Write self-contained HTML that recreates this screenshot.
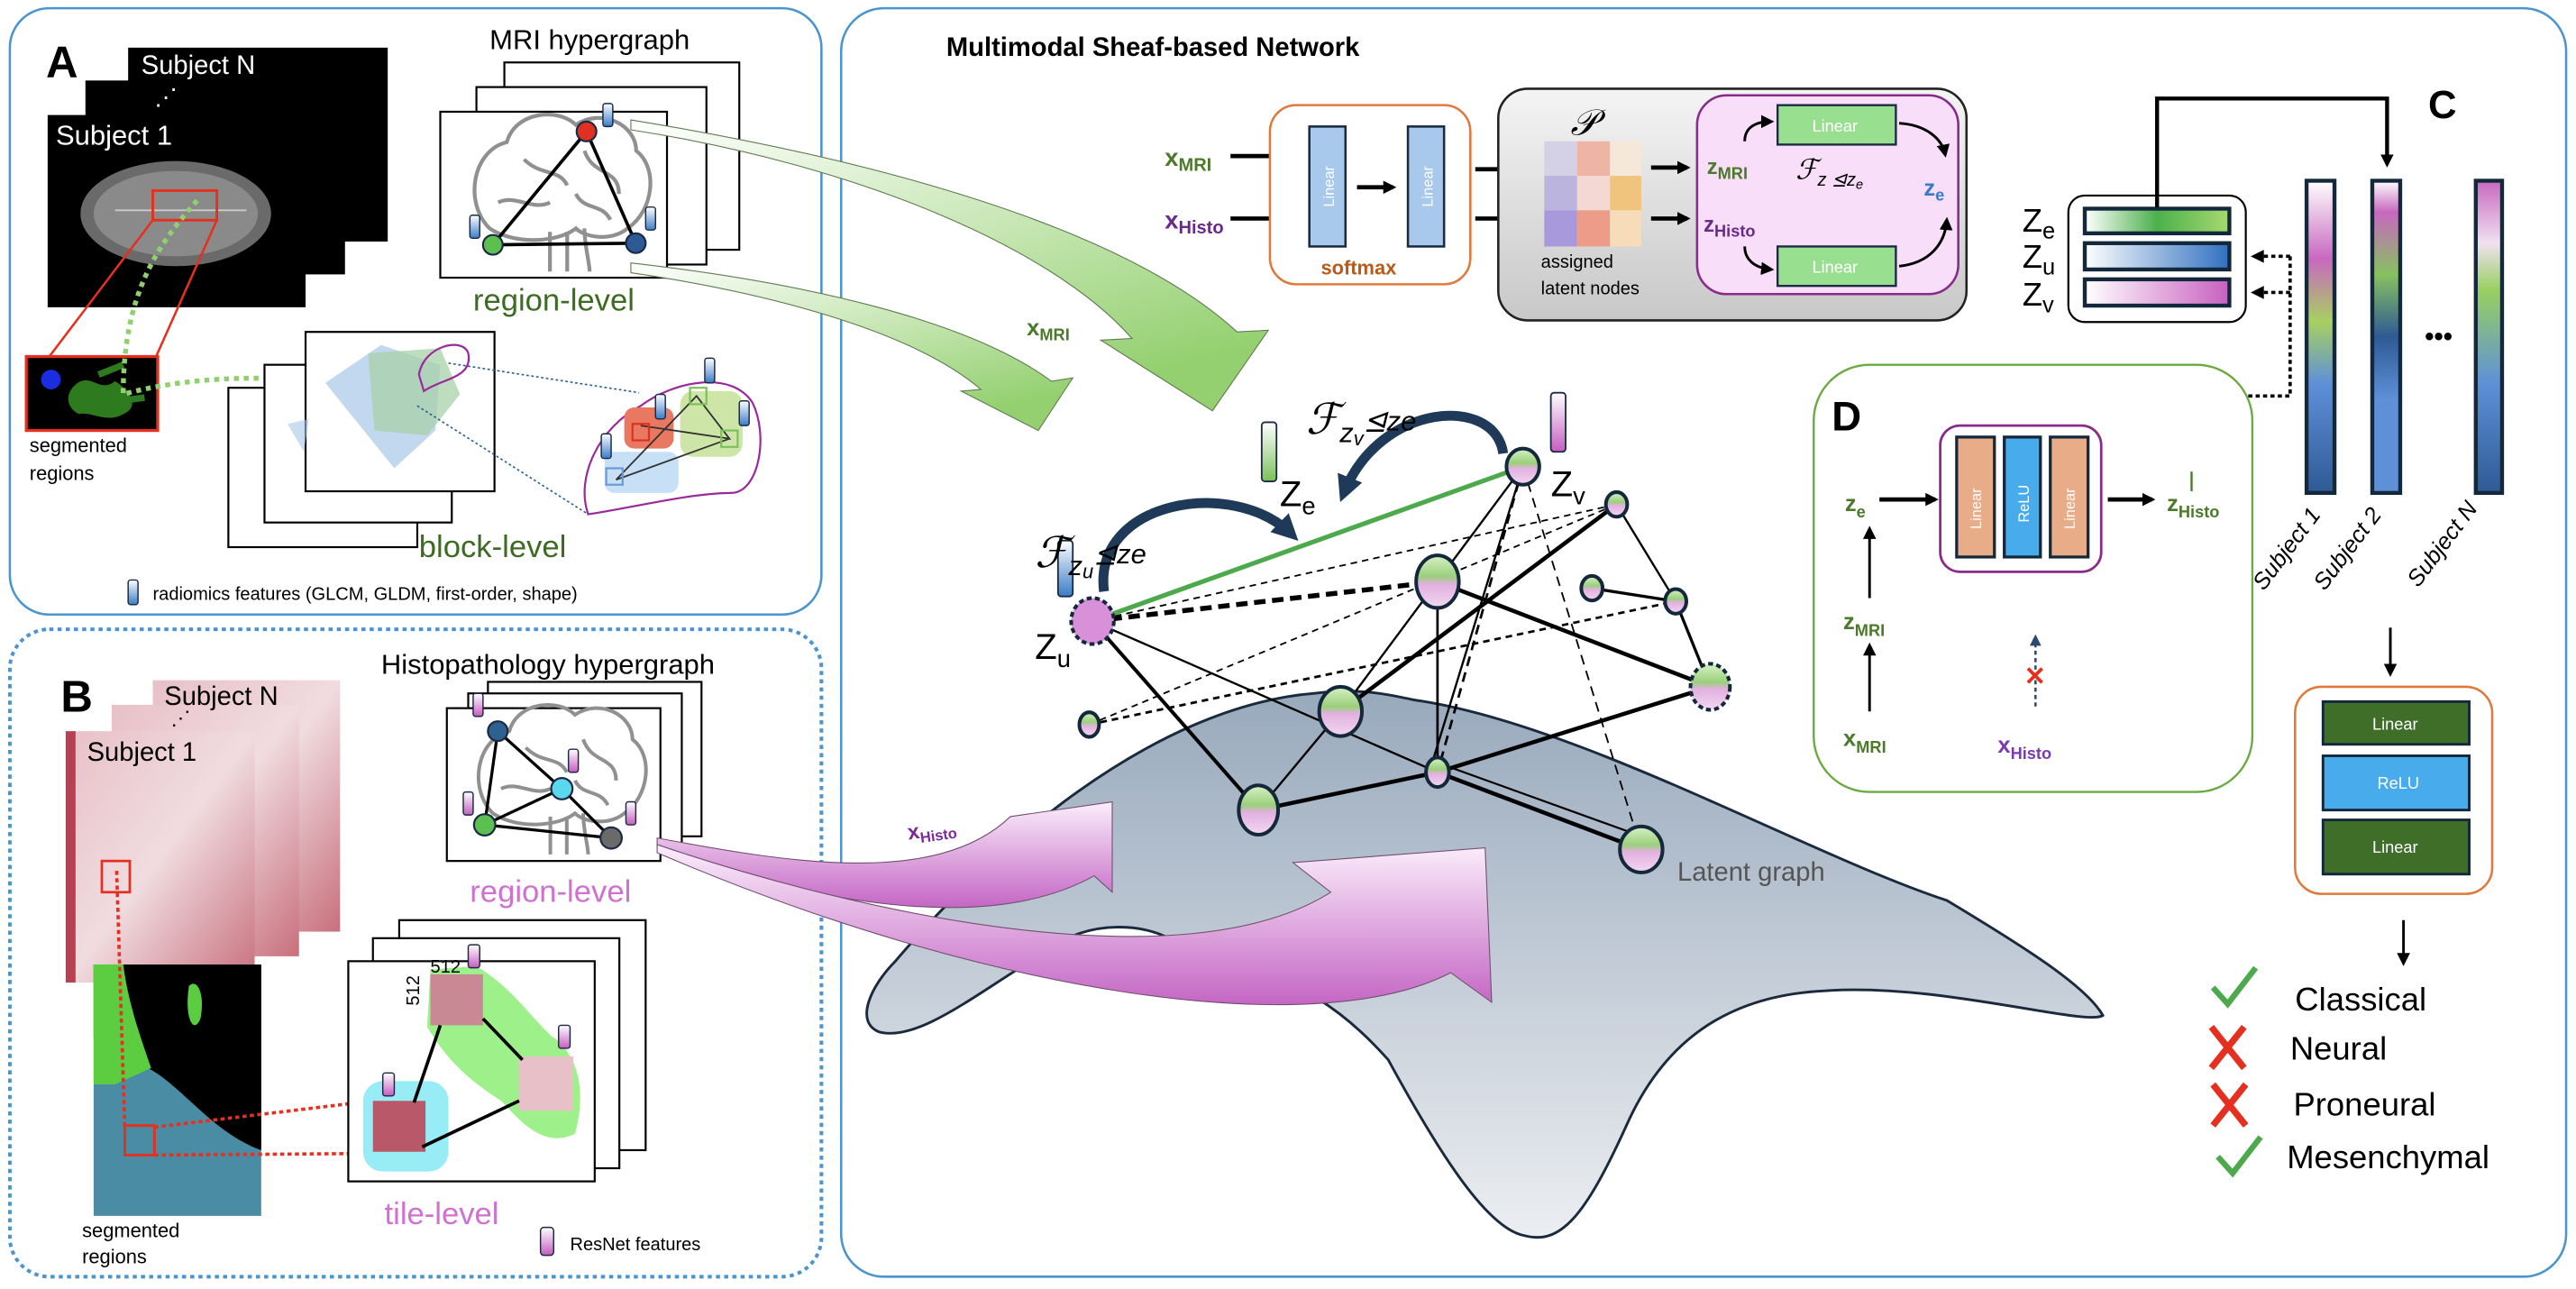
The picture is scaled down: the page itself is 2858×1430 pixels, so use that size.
<!DOCTYPE html>
<html><head><meta charset="utf-8"><style>
html,body{margin:0;padding:0;background:#fff;}
svg{display:block;}
text{font-family:"Liberation Sans",sans-serif;}
</style></head><body>
<svg width="2858" height="1430" viewBox="0 0 1568 784.5" preserveAspectRatio="none" xmlns="http://www.w3.org/2000/svg">
<defs>
<linearGradient id="ng" x1="0" y1="0" x2="0" y2="1"><stop offset="0" stop-color="#d8f0c8"/><stop offset="0.4" stop-color="#9ad07a"/><stop offset="0.55" stop-color="#e2b0e0"/><stop offset="1" stop-color="#f2d8f0"/></linearGradient>
<linearGradient id="bb" x1="0" y1="0" x2="0" y2="1"><stop offset="0" stop-color="#fff"/><stop offset="1" stop-color="#3a7cc6"/></linearGradient>
<linearGradient id="pb" x1="0" y1="0" x2="0" y2="1"><stop offset="0" stop-color="#fff"/><stop offset="1" stop-color="#c65cbf"/></linearGradient>
<linearGradient id="gb" x1="0" y1="0" x2="0" y2="1"><stop offset="0" stop-color="#fff"/><stop offset="1" stop-color="#7cc05a"/></linearGradient>
<linearGradient id="man" x1="0" y1="0" x2="0" y2="1"><stop offset="0" stop-color="#98a9bc"/><stop offset="1" stop-color="#eceef1"/></linearGradient>
<linearGradient id="garr" x1="0" y1="0" x2="0.6" y2="1"><stop offset="0" stop-color="#ffffff"/><stop offset="1" stop-color="#94d070"/></linearGradient>
<linearGradient id="parr" x1="0" y1="0" x2="0" y2="1"><stop offset="0" stop-color="#fbeefb"/><stop offset="1" stop-color="#c466c4"/></linearGradient>
<linearGradient id="zeb" x1="0" y1="0" x2="1" y2="0"><stop offset="0" stop-color="#fff"/><stop offset="0.5" stop-color="#4cb04c"/><stop offset="1" stop-color="#a8d870"/></linearGradient>
<linearGradient id="zub" x1="0" y1="0" x2="1" y2="0"><stop offset="0" stop-color="#fff"/><stop offset="1" stop-color="#3070c0"/></linearGradient>
<linearGradient id="zvb" x1="0" y1="0" x2="1" y2="0"><stop offset="0" stop-color="#fff"/><stop offset="1" stop-color="#c860c0"/></linearGradient>
<linearGradient id="s1" x1="0" y1="0" x2="0" y2="1"><stop offset="0" stop-color="#fff"/><stop offset="0.25" stop-color="#c868c0"/><stop offset="0.45" stop-color="#a8d060"/><stop offset="0.65" stop-color="#5e90d8"/><stop offset="1" stop-color="#2e5a94"/></linearGradient>
<linearGradient id="s2" x1="0" y1="0" x2="0" y2="1"><stop offset="0" stop-color="#fff"/><stop offset="0.1" stop-color="#c868c0"/><stop offset="0.3" stop-color="#88c060"/><stop offset="0.5" stop-color="#2e5a94"/><stop offset="0.7" stop-color="#5e90d8"/><stop offset="1" stop-color="#5e90d8"/></linearGradient>
<linearGradient id="s3" x1="0" y1="0" x2="0" y2="1"><stop offset="0" stop-color="#c868c0"/><stop offset="0.2" stop-color="#f0e0f0"/><stop offset="0.35" stop-color="#98d060"/><stop offset="0.65" stop-color="#5e90d8"/><stop offset="1" stop-color="#2e5a94"/></linearGradient>
<linearGradient id="gray" x1="0" y1="0" x2="0" y2="1"><stop offset="0" stop-color="#f4f4f4"/><stop offset="1" stop-color="#c8c8c8"/></linearGradient>
<linearGradient id="hist" x1="0" y1="0" x2="1" y2="1"><stop offset="0" stop-color="#e8c0c8"/><stop offset="0.5" stop-color="#f0dce0"/><stop offset="1" stop-color="#c8707c"/></linearGradient>
<marker id="ah" markerWidth="8" markerHeight="8" refX="6" refY="4" orient="auto" markerUnits="userSpaceOnUse"><path d="M0,0 L8,4 L0,8 Z" fill="#000"/></marker>
<marker id="ahb" markerWidth="7" markerHeight="7" refX="5" refY="3.5" orient="auto" markerUnits="userSpaceOnUse"><path d="M0,0 L7,3.5 L0,7 Z" fill="#2a4a70"/></marker>
<marker id="ahn" markerWidth="16" markerHeight="16" refX="10" refY="8" orient="auto" markerUnits="userSpaceOnUse"><path d="M0,0 L16,8 L0,16 Z" fill="#1e3a58"/></marker>
<g id="brain" fill="none" stroke="#909090" stroke-width="2.2">
<path d="M-40,20 C-55,5 -50,-25 -30,-30 C-25,-48 0,-50 10,-40 C25,-50 45,-40 45,-25 C58,-15 55,10 40,20 C30,28 15,25 10,20 C0,28 -25,30 -40,20 Z"/>
<path d="M-20,-20 C-10,-10 0,-15 5,-5 M15,-25 C20,-10 35,-15 35,0 M-35,5 C-25,0 -15,10 -5,5 M10,0 C15,10 25,5 30,15"/>
<path d="M-5,22 L-5,45 M5,22 L5,45 M15,20 C15,30 18,40 18,45"/>
</g>
</defs>

<!-- Panel boxes -->
<rect x="6" y="5" width="494" height="369" rx="24" fill="#fff" stroke="#4a95cf" stroke-width="1.4"/>
<rect x="6" y="383" width="494" height="394" rx="24" fill="#fff" stroke="#4a95cf" stroke-width="2.2" stroke-dasharray="2.5,2.5"/>
<rect x="512" y="5" width="1050" height="772" rx="26" fill="#fff" stroke="#4a95cf" stroke-width="1.4"/>

<!-- ===== Panel A ===== -->
<text x="28" y="47" font-size="27" font-weight="bold">A</text>
<rect x="78" y="29" width="158" height="118" fill="#000"/>
<text x="86" y="45" font-size="16" fill="#fff">Subject N</text>
<rect x="52" y="49" width="158" height="118" fill="#000"/>
<text x="94" y="64" font-size="14" fill="#fff">⋰</text>
<rect x="29" y="70" width="157" height="117" fill="#000"/>
<text x="34" y="88" font-size="17" fill="#fff">Subject 1</text>
<ellipse cx="107" cy="130" rx="58" ry="32" fill="#6a6a6a"/>
<ellipse cx="107" cy="130" rx="50" ry="26" fill="#8a8a8a"/>
<path d="M70,128 L150,128" stroke="#ccc" stroke-width="1"/>
<rect x="93" y="116" width="39" height="18" fill="none" stroke="#e53020" stroke-width="1.6"/>
<line x1="93" y1="134" x2="30" y2="217" stroke="#e53020" stroke-width="1.4"/>
<line x1="132" y1="134" x2="95" y2="217" stroke="#e53020" stroke-width="1.4"/>
<rect x="16" y="217" width="80" height="45" fill="#000" stroke="#e53020" stroke-width="1.8"/>
<path d="M45,235 C55,225 60,240 70,232 C80,238 85,248 75,252 C65,258 55,250 48,252 C40,248 40,240 45,235 Z" fill="#2e7a1e"/>
<circle cx="31" cy="231" r="6" fill="#1a2ee0"/>
<path d="M60,228 L75,222 M58,246 L88,242" stroke="#2e7a1e" stroke-width="4"/>
<path d="M120,122 C95,150 75,180 75,240 C110,230 170,225 230,238" fill="none" stroke="#90d070" stroke-width="3" stroke-dasharray="3,3"/>
<text x="18" y="275" font-size="12">segmented</text>
<text x="18" y="292" font-size="12">regions</text>

<text x="298" y="30" font-size="17">MRI hypergraph</text>
<rect x="307" y="38" width="143" height="114" fill="#fff" stroke="#000" stroke-width="1.2"/>
<rect x="290" y="53" width="140" height="108" fill="#fff" stroke="#000" stroke-width="1.2"/>
<rect x="268" y="68" width="138" height="101" fill="#fff" stroke="#000" stroke-width="1.2"/>
<use href="#brain" transform="translate(340,118) scale(1.05)"/>
<path d="M357,80 L300,149 L387,148 Z" fill="none" stroke="#000" stroke-width="2"/>
<circle cx="357" cy="80" r="6" fill="#e03020" stroke="#1a2a44" stroke-width="1.2"/>
<circle cx="300" cy="149" r="6" fill="#5cc050" stroke="#1a2a44" stroke-width="1.2"/>
<circle cx="387" cy="148" r="6" fill="#2e5a94" stroke="#1a2a44" stroke-width="1.2"/>
<rect x="367" y="63" width="6" height="14" rx="1.5" fill="url(#bb)" stroke="#1a2a44" stroke-width="0.8"/>
<rect x="286" y="131" width="6" height="14" rx="1.5" fill="url(#bb)" stroke="#1a2a44" stroke-width="0.8"/>
<rect x="393" y="126" width="6" height="14" rx="1.5" fill="url(#bb)" stroke="#1a2a44" stroke-width="0.8"/>
<text x="288" y="189" font-size="19" fill="#3d6b22">region-level</text>

<rect x="139" y="236" width="115" height="97" fill="#fff" stroke="#000" stroke-width="1.2"/>
<rect x="161" y="222" width="114" height="96" fill="#fff" stroke="#000" stroke-width="1.2"/>
<rect x="186" y="202" width="115" height="97" fill="#fff" stroke="#000" stroke-width="1.2"/>
<path d="M198,233 L232,210 L268,222 L265,262 L240,285 Z" fill="#a8c8e8" opacity="0.7"/>
<path d="M224,215 L268,212 L280,240 L260,265 L228,262 Z" fill="#a8d0a8" opacity="0.75"/>
<path d="M255,228 C258,210 282,205 285,215 C288,230 270,230 258,238 Z" fill="none" stroke="#9a2a9a" stroke-width="1.2"/>
<path d="M175,258 L185,275 L188,255 Z" fill="#a8c8e8" opacity="0.6"/>
<line x1="273" y1="221" x2="389" y2="239" stroke="#2a6090" stroke-width="0.9" stroke-dasharray="1.5,1.5"/>
<line x1="254" y1="247" x2="358" y2="313" stroke="#2a6090" stroke-width="0.9" stroke-dasharray="1.5,1.5"/>
<path d="M358,313 C350,290 365,260 390,247 C410,232 445,225 458,245 C468,265 462,300 445,300 C420,300 380,310 358,313 Z" fill="#fff" stroke="#9a2a9a" stroke-width="1.2"/>
<rect x="368" y="275" width="45" height="25" rx="6" fill="#c8e0f6"/>
<rect x="380" y="248" width="30" height="25" rx="6" fill="#e87860"/>
<rect x="414" y="238" width="38" height="40" rx="8" fill="#cde6a8"/>
<path d="M375,292 L424,241 L444,267 L390,259 M375,292 L444,267" stroke="#333" stroke-width="1" fill="none"/>
<rect x="385" y="258" width="10" height="10" fill="none" stroke="#e03020" stroke-width="1.2"/>
<rect x="420" y="236" width="10" height="10" fill="none" stroke="#7cc05a" stroke-width="1.2"/>
<rect x="439" y="262" width="10" height="10" fill="none" stroke="#7cc05a" stroke-width="1.2"/>
<rect x="369" y="285" width="10" height="10" fill="none" stroke="#6a9ad8" stroke-width="1.2"/>
<rect x="429" y="218" width="6" height="15" rx="1.5" fill="url(#bb)" stroke="#1a2a44" stroke-width="0.8"/>
<rect x="399" y="240" width="6" height="15" rx="1.5" fill="url(#bb)" stroke="#1a2a44" stroke-width="0.8"/>
<rect x="450" y="244" width="6" height="15" rx="1.5" fill="url(#bb)" stroke="#1a2a44" stroke-width="0.8"/>
<rect x="366" y="264" width="6" height="15" rx="1.5" fill="url(#bb)" stroke="#1a2a44" stroke-width="0.8"/>
<text x="255" y="339" font-size="19" fill="#3d6b22">block-level</text>
<rect x="78" y="353" width="6" height="15" rx="1.5" fill="url(#bb)" stroke="#1a2a44" stroke-width="0.8"/>
<text x="93" y="365" font-size="11">radiomics features (GLCM, GLDM, first-order, shape)</text>

<!-- ===== Panel B ===== -->
<text x="37" y="433" font-size="27" font-weight="bold">B</text>
<rect x="93" y="414" width="114" height="153" fill="url(#hist)"/>
<rect x="68" y="429" width="114" height="153" fill="url(#hist)"/>
<rect x="40" y="445" width="115" height="153" fill="url(#hist)"/>
<rect x="40" y="445" width="6" height="153" fill="#b84050"/>
<text x="100" y="429" font-size="16">Subject N</text>
<text x="104" y="441" font-size="12">⋰</text>
<text x="53" y="463" font-size="16">Subject 1</text>
<rect x="62" y="524" width="17" height="19" fill="none" stroke="#e53020" stroke-width="1.5"/>
<rect x="57" y="587" width="102" height="153" fill="#4a8ca4"/>
<path d="M57,587 L159,587 L159,700 C130,690 110,660 90,650 C75,645 65,635 57,632 Z" fill="#000"/>
<path d="M57,587 L75,587 C78,610 85,630 92,650 L70,660 L57,660 Z" fill="#5ccc40"/>
<path d="M115,600 C120,595 125,605 122,620 C118,630 112,620 115,600 Z" fill="#5ccc40"/>
<path d="M71,530 L76,688" stroke="#e53020" stroke-width="2" stroke-dasharray="2.5,2" fill="none"/>
<rect x="76" y="685" width="18" height="18" fill="none" stroke="#e53020" stroke-width="1.6"/>
<path d="M94,686 L227,670 M94,703 L227,702" stroke="#e53020" stroke-width="2" stroke-dasharray="2.5,2"/>
<text x="50" y="753" font-size="12">segmented</text>
<text x="50" y="769" font-size="12">regions</text>

<text x="232" y="410" font-size="17">Histopathology hypergraph</text>
<rect x="297" y="415" width="130" height="94" fill="#fff" stroke="#000" stroke-width="1.2"/>
<rect x="285" y="422" width="130" height="94" fill="#fff" stroke="#000" stroke-width="1.2"/>
<rect x="272" y="431" width="130" height="93" fill="#fff" stroke="#000" stroke-width="1.2"/>
<use href="#brain" transform="translate(340,475) scale(1.0)"/>
<path d="M303,445 L342,480 L372,510 L295,502 L303,445 M295,502 L342,480" fill="none" stroke="#000" stroke-width="1.8"/>
<circle cx="303" cy="445" r="6" fill="#2e6090" stroke="#1a2a44" stroke-width="1.2"/>
<circle cx="342" cy="480" r="6.5" fill="#5ad8ec" stroke="#1a2a44" stroke-width="1.2"/>
<circle cx="295" cy="502" r="6.5" fill="#5cc050" stroke="#1a2a44" stroke-width="1.2"/>
<circle cx="372" cy="510" r="6.5" fill="#6a6a6a" stroke="#1a2a44" stroke-width="1.2"/>
<rect x="288" y="422" width="6" height="14" rx="1.5" fill="url(#pb)" stroke="#1a2a44" stroke-width="0.8"/>
<rect x="346" y="456" width="6" height="14" rx="1.5" fill="url(#pb)" stroke="#1a2a44" stroke-width="0.8"/>
<rect x="282" y="482" width="6" height="14" rx="1.5" fill="url(#pb)" stroke="#1a2a44" stroke-width="0.8"/>
<rect x="381" y="488" width="6" height="14" rx="1.5" fill="url(#pb)" stroke="#1a2a44" stroke-width="0.8"/>
<text x="286" y="549" font-size="19" fill="#d070d0">region-level</text>

<rect x="243" y="560" width="150" height="140" fill="#fff" stroke="#000" stroke-width="1.2"/>
<rect x="227" y="571" width="150" height="140" fill="#fff" stroke="#000" stroke-width="1.2"/>
<rect x="212" y="585" width="150" height="134" fill="#fff" stroke="#000" stroke-width="1.2"/>
<path d="M262,590 L290,588 C310,600 320,615 335,630 C350,640 358,660 350,690 C330,700 315,680 305,670 C290,660 275,650 260,625 Z" fill="#9ef08a"/>
<rect x="221" y="658" width="52" height="55" rx="12" fill="#98ecf6"/>
<rect x="262" y="593" width="32" height="31" fill="#c88894"/>
<rect x="316" y="643" width="33" height="33" fill="#e8c0c8"/>
<rect x="227" y="670" width="32" height="31" fill="#b85868"/>
<path d="M252,671 L268,624 M294,620 L318,645 M257,698 L316,670" stroke="#000" stroke-width="2"/>
<text x="262" y="592" font-size="11">512</text>
<text x="255" y="612" font-size="11" transform="rotate(-90 255 612)">512</text>
<rect x="285" y="575" width="7" height="14" rx="1.5" fill="url(#pb)" stroke="#1a2a44" stroke-width="0.8"/>
<rect x="340" y="624" width="7" height="14" rx="1.5" fill="url(#pb)" stroke="#1a2a44" stroke-width="0.8"/>
<rect x="233" y="653" width="7" height="14" rx="1.5" fill="url(#pb)" stroke="#1a2a44" stroke-width="0.8"/>
<text x="234" y="745" font-size="19" fill="#d070d0">tile-level</text>
<rect x="329" y="747" width="8" height="17" rx="2" fill="url(#pb)" stroke="#1a2a44" stroke-width="0.8"/>
<text x="347" y="761" font-size="11">ResNet features</text>

<!-- ===== Main ===== -->
<text x="576" y="34" font-size="16" font-weight="bold">Multimodal Sheaf-based Network</text>

<!-- manifold -->
<path d="M861,426 C960,440 1100,520 1185,548 C1230,575 1270,600 1280,618 C1270,625 1180,598 1111,603 C1045,606 1010,640 990,685 C965,740 950,758 928,752 C905,748 875,700 845,645 C805,600 770,590 719,576 C700,560 660,560 639,578 C600,600 560,635 535,628 C520,622 530,600 545,585 C600,520 700,430 800,422 C830,418 850,424 861,426 Z" fill="url(#man)" stroke="#1a2a3c" stroke-width="1.6"/>
<text x="1021" y="536" font-size="16" fill="#555">Latent graph</text>

<!-- green arrows -->
<path d="M384,73 C520,95 680,135 753,202 L772,201 L738,250 L670,207 L689,206 C640,150 520,100 384,79 Z" fill="url(#garr)" stroke="#607a50" stroke-width="0.6"/>
<path d="M384,160 C490,172 590,195 640,232 L653,230 L632,262 L585,238 L597,237 C560,205 480,180 384,166 Z" fill="url(#garr)" stroke="#607a50" stroke-width="0.6"/>
<text x="625" y="204" font-size="14" font-weight="bold" fill="#4a7a2a">x<tspan font-size="10" dy="3">MRI</tspan></text>

<!-- pink arrows -->
<path d="M400,510 C480,525 570,540 615,497 L677,488 L677,543 L666,533 C600,570 490,548 400,516 Z" fill="url(#parr)" stroke="#705070" stroke-width="0.6"/>
<path d="M400,514 C520,555 720,600 810,543 L787,525 L904,516 L908,610 L883,592 C800,635 600,605 400,519 Z" fill="url(#parr)" stroke="#705070" stroke-width="0.6"/>
<text x="553" y="511" font-size="13" font-weight="bold" fill="#7a2a9a" transform="rotate(-8 553 511)">x<tspan font-size="9" dy="3">Histo</tspan></text>

<!-- graph edges -->
<g stroke="#000" fill="none">
<line x1="665" y1="378" x2="875" y2="354" stroke-width="3" stroke-dasharray="7,4"/>
<line x1="665" y1="378" x2="984" y2="307" stroke-width="1" stroke-dasharray="4,3"/>
<line x1="663" y1="441" x2="984" y2="307" stroke-width="1" stroke-dasharray="4,3"/>
<line x1="663" y1="441" x2="1020" y2="366" stroke-width="1.5" stroke-dasharray="4,3"/>
<line x1="927" y1="284" x2="875" y2="470" stroke-width="1.5" stroke-dasharray="6,4"/>
<line x1="927" y1="284" x2="999" y2="517" stroke-width="1" stroke-dasharray="6,4"/>
<line x1="875" y1="354" x2="875" y2="470" stroke-width="1.5"/>
<line x1="665" y1="378" x2="766" y2="493" stroke-width="2.2"/>
<line x1="665" y1="378" x2="875" y2="470" stroke-width="1.3"/>
<line x1="875" y1="354" x2="1041" y2="418" stroke-width="2.5"/>
<line x1="927" y1="284" x2="816" y2="433" stroke-width="1.3"/>
<line x1="927" y1="284" x2="870" y2="470" stroke-width="1.3"/>
<line x1="984" y1="307" x2="816" y2="433" stroke-width="2.5"/>
<line x1="766" y1="493" x2="875" y2="470" stroke-width="2.5"/>
<line x1="875" y1="470" x2="1041" y2="418" stroke-width="2.5"/>
<line x1="875" y1="470" x2="999" y2="517" stroke-width="2.5"/>
<line x1="880" y1="466" x2="1002" y2="510" stroke-width="1.2"/>
<line x1="969" y1="358" x2="1020" y2="366" stroke-width="1.8"/>
<line x1="1020" y1="366" x2="1041" y2="418" stroke-width="1.8"/>
<line x1="984" y1="307" x2="1020" y2="366" stroke-width="1.3"/>
<line x1="816" y1="433" x2="766" y2="493" stroke-width="1.3"/>
</g>
<line x1="665" y1="378" x2="927" y2="284" stroke="#4caa4c" stroke-width="2.8"/>
<g stroke="#14283c" stroke-width="2.2" fill="url(#ng)">
<ellipse cx="665" cy="378" rx="13" ry="14" stroke-dasharray="3,2" fill="#d890d8"/>
<ellipse cx="927" cy="284" rx="10" ry="11"/>
<ellipse cx="984" cy="307" rx="6.5" ry="7.5"/>
<ellipse cx="875" cy="354" rx="13" ry="16"/>
<ellipse cx="969" cy="358" rx="6.5" ry="7.5"/>
<ellipse cx="1020" cy="366" rx="6.5" ry="7.5"/>
<ellipse cx="1041" cy="418" rx="12" ry="14" stroke-dasharray="3,2"/>
<ellipse cx="663" cy="441" rx="6" ry="7.5"/>
<ellipse cx="816" cy="433" rx="13" ry="15"/>
<ellipse cx="875" cy="470" rx="7" ry="9"/>
<ellipse cx="766" cy="493" rx="12" ry="15"/>
<ellipse cx="999" cy="517" rx="13" ry="14"/>
</g>
<rect x="644" y="329" width="9" height="34" rx="2" fill="url(#bb)" stroke="#1a2a44" stroke-width="1"/>
<rect x="768" y="257" width="9" height="36" rx="2" fill="url(#gb)" stroke="#1a2a44" stroke-width="1"/>
<rect x="944" y="239" width="9" height="36" rx="2" fill="url(#pb)" stroke="#1a2a44" stroke-width="1"/>
<path d="M672,360 C665,305 750,290 786,325" fill="none" stroke="#1e3a58" stroke-width="6" marker-end="url(#ahn)"/>
<path d="M915,276 C910,240 840,245 818,300" fill="none" stroke="#1e3a58" stroke-width="6" marker-end="url(#ahn)"/>
<text x="630" y="345" font-size="26" font-style="italic" font-family="Liberation Serif,serif">ℱ<tspan font-size="17" dy="5">z</tspan><tspan font-size="12" dy="2">u</tspan><tspan font-size="17" dy="-9">⊴z</tspan><tspan font-size="17">e</tspan></text>
<text x="795" y="264" font-size="26" font-style="italic" font-family="Liberation Serif,serif">ℱ<tspan font-size="17" dy="5">z</tspan><tspan font-size="12" dy="2">v</tspan><tspan font-size="17" dy="-9">⊴z</tspan><tspan font-size="17">e</tspan></text>
<text x="779" y="308" font-size="22">Z<tspan font-size="15" dy="5">e</tspan></text>
<text x="944" y="302" font-size="22">Z<tspan font-size="15" dy="5">v</tspan></text>
<text x="630" y="401" font-size="22">Z<tspan font-size="15" dy="5">u</tspan></text>

<!-- top module -->
<text x="709" y="101" font-size="15" font-weight="bold" fill="#4a7a2a">x<tspan font-size="11" dy="3">MRI</tspan></text>
<text x="709" y="139" font-size="15" font-weight="bold" fill="#6a2a8a">x<tspan font-size="11" dy="3">Histo</tspan></text>
<line x1="749" y1="95" x2="790" y2="95" stroke="#000" stroke-width="2.6" marker-end="url(#ah)"/>
<line x1="749" y1="133" x2="790" y2="133" stroke="#000" stroke-width="2.6" marker-end="url(#ah)"/>
<rect x="773" y="64" width="122" height="109" rx="16" fill="#fff" stroke="#e07a3a" stroke-width="1.4"/>
<rect x="797" y="77" width="22" height="73" fill="#a8c8ec" stroke="#1a2a44" stroke-width="1.4"/>
<rect x="857" y="77" width="22" height="73" fill="#a8c8ec" stroke="#1a2a44" stroke-width="1.4"/>
<text transform="translate(812,126) rotate(-90)" font-size="9" fill="#fff">Linear</text>
<text transform="translate(872,126) rotate(-90)" font-size="9" fill="#fff">Linear</text>
<line x1="826" y1="114" x2="848" y2="114" stroke="#000" stroke-width="2.6" marker-end="url(#ah)"/>
<text x="804" y="167" font-size="12" font-weight="bold" fill="#b85a1a">softmax</text>
<line x1="898" y1="103" x2="930" y2="103" stroke="#000" stroke-width="2.6" marker-end="url(#ah)"/>
<line x1="898" y1="133" x2="930" y2="133" stroke="#000" stroke-width="2.6" marker-end="url(#ah)"/>
<rect x="912" y="54" width="285" height="141" rx="18" fill="url(#gray)" stroke="#222" stroke-width="1.4"/>
<text x="956" y="82" font-size="22" font-style="italic" font-family="Liberation Serif,serif">𝒫</text>
<g>
<rect x="940" y="86" width="20" height="21" fill="#d4d0e6"/><rect x="960" y="86" width="20" height="21" fill="#eeb4a4"/><rect x="980" y="86" width="19" height="21" fill="#f6e8d8"/>
<rect x="940" y="107" width="20" height="21" fill="#bab4de"/><rect x="960" y="107" width="20" height="21" fill="#f4d8d4"/><rect x="980" y="107" width="19" height="21" fill="#f0c47c"/>
<rect x="940" y="128" width="20" height="22" fill="#a898dc"/><rect x="960" y="128" width="20" height="22" fill="#ec9c88"/><rect x="980" y="128" width="19" height="22" fill="#f6dcb8"/>
</g>
<text x="938" y="163" font-size="11">assigned</text>
<text x="938" y="179" font-size="11">latent nodes</text>
<line x1="1005" y1="102" x2="1027" y2="102" stroke="#000" stroke-width="2.6" marker-end="url(#ah)"/>
<line x1="1005" y1="133" x2="1027" y2="133" stroke="#000" stroke-width="2.6" marker-end="url(#ah)"/>
<rect x="1033" y="58" width="159" height="121" rx="18" fill="#f8def8" stroke="#8a2a8a" stroke-width="1.4"/>
<rect x="1082" y="64" width="72" height="24" fill="#98e090" stroke="#1a2a44" stroke-width="1.3"/>
<rect x="1082" y="150" width="72" height="24" fill="#98e090" stroke="#1a2a44" stroke-width="1.3"/>
<text x="1103" y="80" font-size="10" fill="#fff">Linear</text>
<text x="1103" y="166" font-size="10" fill="#fff">Linear</text>
<path d="M1062,86 C1062,78 1068,74 1078,74" fill="none" stroke="#000" stroke-width="1.6" marker-end="url(#ah)"/>
<path d="M1156,75 C1172,76 1182,84 1184,94" fill="none" stroke="#000" stroke-width="1.6" marker-end="url(#ah)"/>
<path d="M1062,150 C1062,158 1068,163 1078,164" fill="none" stroke="#000" stroke-width="1.6" marker-end="url(#ah)"/>
<path d="M1156,162 C1175,160 1184,148 1185,134" fill="none" stroke="#000" stroke-width="1.6" marker-end="url(#ah)"/>
<text x="1039" y="106" font-size="13" font-weight="bold" fill="#4a7a2a">z<tspan font-size="10" dy="3">MRI</tspan></text>
<text x="1037" y="141" font-size="13" font-weight="bold" fill="#6a2a8a">z<tspan font-size="10" dy="3">Histo</tspan></text>
<text x="1093" y="109" font-size="17" font-style="italic" font-family="Liberation Serif,serif">ℱ<tspan font-size="11" dy="4">z ⊴z</tspan><tspan font-size="8" dy="2">e</tspan></text>
<text x="1171" y="119" font-size="14" font-weight="bold" fill="#3a7ac8">z<tspan font-size="10" dy="3">e</tspan></text>

<!-- C -->
<text x="1478" y="72" font-size="24" font-weight="bold">C</text>
<rect x="1259" y="119" width="108" height="77" rx="10" fill="#fff" stroke="#000" stroke-width="1.2"/>
<rect x="1269" y="127" width="88" height="15" fill="url(#zeb)" stroke="#14283c" stroke-width="2.4"/>
<rect x="1269" y="148" width="88" height="16" fill="url(#zub)" stroke="#14283c" stroke-width="2.4"/>
<rect x="1269" y="170" width="88" height="16" fill="url(#zvb)" stroke="#14283c" stroke-width="2.4"/>
<text x="1231" y="141" font-size="20">Z<tspan font-size="14" dy="4">e</tspan></text>
<text x="1231" y="163" font-size="20">Z<tspan font-size="14" dy="4">u</tspan></text>
<text x="1231" y="186" font-size="20">Z<tspan font-size="14" dy="4">v</tspan></text>
<path d="M1313,126 L1313,60 L1453,60 L1453,100" fill="none" stroke="#000" stroke-width="2.4" marker-end="url(#ah)"/>
<path d="M1394,156 L1378,156 M1394,178 L1378,178 M1394,156 L1394,241 L1352,241 L1352,285" fill="none" stroke="#000" stroke-width="2" stroke-dasharray="2.5,2"/>
<path d="M1378,152 L1370,156 L1378,160 Z M1378,174 L1370,178 L1378,182 Z" fill="#000"/>
<rect x="1404" y="110" width="17" height="190" fill="url(#s1)" stroke="#14283c" stroke-width="2.4"/>
<rect x="1444" y="110" width="17" height="190" fill="url(#s2)" stroke="#14283c" stroke-width="2.4"/>
<rect x="1507" y="110" width="16" height="190" fill="url(#s3)" stroke="#14283c" stroke-width="2.4"/>
<text x="1476" y="210" font-size="16" font-weight="bold">•••</text>
<text transform="translate(1378,360) rotate(-53)" font-size="14" font-style="italic">Subject 1</text>
<text transform="translate(1415,360) rotate(-53)" font-size="14" font-style="italic">Subject 2</text>
<text transform="translate(1472,358) rotate(-53)" font-size="14" font-style="italic">Subject N</text>

<!-- D -->
<rect x="1104" y="222" width="267" height="260" rx="34" fill="#fff" stroke="#6aaa40" stroke-width="1.3"/>
<text x="1115" y="262" font-size="25" font-weight="bold">D</text>
<rect x="1181" y="259" width="98" height="89" rx="12" fill="#fff" stroke="#8a2a8a" stroke-width="1.5"/>
<rect x="1191" y="266" width="23" height="73" fill="#e8ac88" stroke="#14283c" stroke-width="1.8"/>
<rect x="1220" y="266" width="22" height="73" fill="#48acec" stroke="#14283c" stroke-width="1.8"/>
<rect x="1248" y="266" width="23" height="73" fill="#e8ac88" stroke="#14283c" stroke-width="1.8"/>
<text transform="translate(1206,322) rotate(-90)" font-size="9" fill="#fff">Linear</text>
<text transform="translate(1235,318) rotate(-90)" font-size="9" fill="#fff">ReLU</text>
<text transform="translate(1263,322) rotate(-90)" font-size="9" fill="#fff">Linear</text>
<text x="1123" y="311" font-size="14" font-weight="bold" fill="#4a7a2a">z<tspan font-size="10" dy="4">e</tspan></text>
<line x1="1144" y1="304" x2="1178" y2="304" stroke="#000" stroke-width="2.6" marker-end="url(#ah)"/>
<line x1="1283" y1="304" x2="1310" y2="304" stroke="#000" stroke-width="2.6" marker-end="url(#ah)"/>
<text x="1319" y="311" font-size="14" font-weight="bold" fill="#4a7a2a">z<tspan font-size="10" dy="4">Histo</tspan></text>
<line x1="1334" y1="287" x2="1334" y2="299" stroke="#4a7a2a" stroke-width="1.3"/>
<line x1="1138" y1="364" x2="1138" y2="322" stroke="#000" stroke-width="1.6" marker-end="url(#ah)"/>
<text x="1122" y="383" font-size="14" font-weight="bold" fill="#4a7a2a">z<tspan font-size="10" dy="4">MRI</tspan></text>
<line x1="1138" y1="433" x2="1138" y2="393" stroke="#000" stroke-width="1.6" marker-end="url(#ah)"/>
<text x="1122" y="454" font-size="14" font-weight="bold" fill="#4a7a2a">x<tspan font-size="10" dy="4">MRI</tspan></text>
<line x1="1239" y1="430" x2="1239" y2="388" stroke="#2a4a70" stroke-width="1.4" stroke-dasharray="2.5,2" marker-end="url(#ahb)"/>
<text x="1232" y="417" font-size="16" fill="#e53020" font-weight="bold">✕</text>
<text x="1216" y="458" font-size="14" font-weight="bold" fill="#7a3ab0">x<tspan font-size="10" dy="4">Histo</tspan></text>

<!-- classifier -->
<line x1="1455" y1="382" x2="1455" y2="410" stroke="#000" stroke-width="1.6" marker-end="url(#ah)"/>
<rect x="1397" y="418" width="120" height="126" rx="16" fill="#fff" stroke="#e07a3a" stroke-width="1.4"/>
<rect x="1414" y="427" width="89" height="26" fill="#3e6e28" stroke="#14283c" stroke-width="1.6"/>
<rect x="1414" y="460" width="89" height="33" fill="#48acec" stroke="#14283c" stroke-width="1.6"/>
<rect x="1414" y="499" width="89" height="33" fill="#3e6e28" stroke="#14283c" stroke-width="1.6"/>
<text x="1444" y="444" font-size="10" fill="#fff">Linear</text>
<text x="1447" y="480" font-size="10" fill="#fff">ReLU</text>
<text x="1444" y="519" font-size="10" fill="#fff">Linear</text>
<line x1="1463" y1="560" x2="1463" y2="586" stroke="#000" stroke-width="1.6" marker-end="url(#ah)"/>
<path d="M1347,601 L1356,611 L1373,589" fill="none" stroke="#4caa4c" stroke-width="3.5"/>
<text x="1397" y="615" font-size="20">Classical</text>
<path d="M1346,625 L1366,650 M1366,625 L1346,650" stroke="#e53020" stroke-width="4"/>
<text x="1394" y="645" font-size="20">Neural</text>
<path d="M1347,660 L1367,685 M1367,660 L1347,685" stroke="#e53020" stroke-width="4"/>
<text x="1396" y="679" font-size="20">Proneural</text>
<path d="M1350,704 L1359,714 L1376,692" fill="none" stroke="#4caa4c" stroke-width="3.5"/>
<text x="1392" y="711" font-size="20">Mesenchymal</text>
</svg>
</body></html>
